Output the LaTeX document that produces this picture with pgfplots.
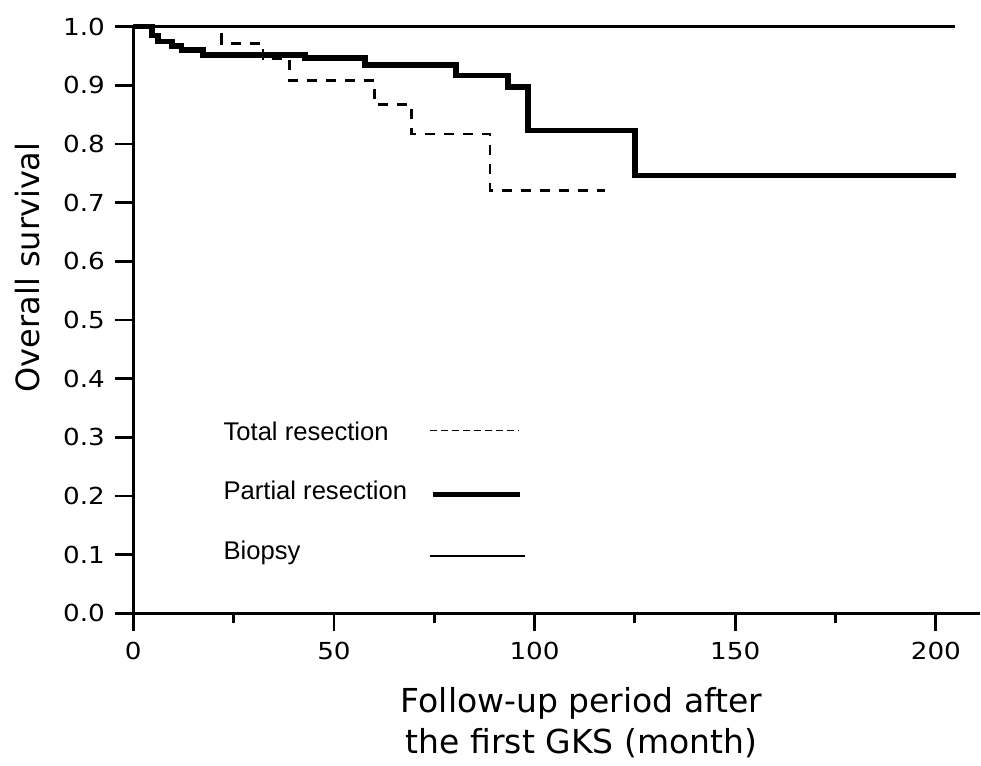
\documentclass[border=0pt]{standalone}
\usepackage{fontspec}
\setmainfont{DejaVu Sans}
\newfontfamily\tickfont[FakeStretch=1.12]{DejaVu Sans}
\newfontfamily\legfont{Liberation Sans}
\usepackage{pgfplots}
\pgfplotsset{compat=1.18}

\begin{document}
\begin{tikzpicture}
% page = 981x766 px at 0.5pt per px
\useasboundingbox (-66.65pt,-76.35pt) rectangle (423.85pt,306.65pt);
\begin{axis}[
  at={(0,0)}, anchor=south west,
  scale only axis,
  width=423.35pt, height=293.3pt,
  xmin=0, xmax=211,
  ymin=0, ymax=1,
  axis lines=left,
  axis line style={-, line width=1.4pt},
  clip=false,
  tick align=outside,
  major tick length=9pt,
  minor tick length=5pt,
  every tick/.style={black, line width=1.4pt},
  xtick={0,50,100,150,200},
  minor xtick={25,75,125,175},
  ytick={0,0.1,0.2,0.3,0.4,0.5,0.6,0.7,0.8,0.9,1.0},
  /pgf/number format/assume math mode=true,
  y tick label style={/pgf/number format/fixed, /pgf/number format/fixed zerofill,
    /pgf/number format/precision=1},
  ticklabel style={font=\fontsize{11.7}{14}\tickfont, inner sep=0pt},
  xticklabel style={anchor=north, yshift=-5pt},
  yticklabel style={anchor=east, xshift=-5pt},
  xlabel={Follow-up period after\\the first GKS (month)},
  xlabel style={at={(axis description cs:0.5294,-0.1255)}, anchor=north,
    align=center, inner sep=0pt, font=\fontsize{16.5}{20.5}\selectfont},
  ylabel={Overall survival},
  ylabel style={at={(axis description cs:-0.1102,0.5895)}, anchor=base,
    inner sep=0pt, font=\fontsize{16}{19}\selectfont},
]

% Total resection
\addplot[black, const plot, line width=1.4pt, dash pattern=on 5pt off 4.5pt]
  coordinates {(0,1) (22.0,0.972) (32.3,0.945) (39.0,0.908) (60.2,0.867)
               (69.4,0.817) (88.9,0.721) (117.5,0.721)};

% Partial resection
\addplot[black, const plot, line width=2.8pt]
  coordinates {(0,1) (4.6,0.985) (6.2,0.975) (9.6,0.967) (12.0,0.960)
               (17.4,0.952) (42.8,0.947) (57.7,0.935) (80.4,0.917)
               (93.4,0.897) (98.3,0.823) (125.0,0.746) (205.0,0.746)};

% Biopsy
\addplot[black, line width=1.5pt] coordinates {(0,1) (204.7,1)};

% legend drawn inside the plot area
\addplot[black, line width=0.6pt, dash pattern=on 3.5pt off 2pt]
  coordinates {(73.9,0.3113) (95.9,0.3113)};
\addplot[black, line width=2.5pt] coordinates {(74.7,0.2017) (96.3,0.2017)};
\addplot[black, line width=1pt] coordinates {(73.9,0.0982) (97.6,0.0982)};

\node[anchor=base west, inner sep=0pt, font=\fontsize{12.8}{15}\legfont]
  at (axis cs:22.4,0.2954) {Total resection};
\node[anchor=base west, inner sep=0pt, font=\fontsize{12.8}{15}\legfont]
  at (axis cs:22.4,0.1932) {Partial resection};
\node[anchor=base west, inner sep=0pt, font=\fontsize{12.8}{15}\legfont]
  at (axis cs:22.4,0.0921) {Biopsy};

\end{axis}
\end{tikzpicture}
\end{document}
